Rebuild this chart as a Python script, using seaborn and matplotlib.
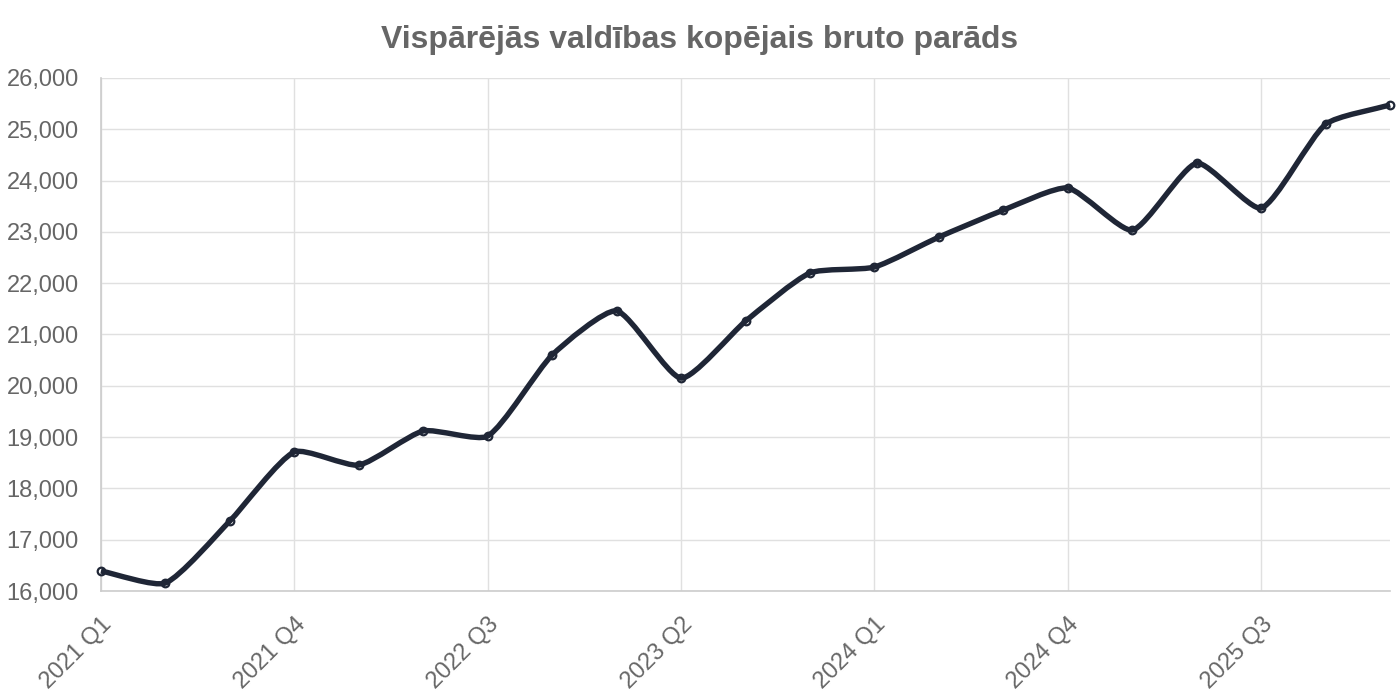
import matplotlib as mpl
mpl.use('Agg')
import matplotlib.pyplot as plt
import seaborn as sns
import numpy as np
import pandas as pd
from matplotlib.path import Path
from matplotlib.patches import PathPatch

quarters = ['2021 Q1', '2021 Q2', '2021 Q3', '2021 Q4',
            '2022 Q1', '2022 Q2', '2022 Q3', '2022 Q4',
            '2023 Q1', '2023 Q2', '2023 Q3', '2023 Q4',
            '2024 Q1', '2024 Q2', '2024 Q3', '2024 Q4',
            '2025 Q1', '2025 Q2', '2025 Q3', '2025 Q4',
            '2026 Q1']
debt = [16390, 16156, 17365, 18710, 18455, 19120, 19020, 20600,
        21460, 20150, 21260, 22200, 22315, 22900, 23425, 23855,
        23035, 24340, 23465, 25100, 25475]

LINE = '#1f2636'
GREY = '#666666'
GRID = '#e0e0e0'


def smooth_path(ax, xs, ys, tension=0.2):
    # chart.js style bezier, control points computed in pixel space
    pts = ax.transData.transform(np.column_stack([xs, ys]))
    n = len(pts)
    cps = []
    for i in range(n):
        prev = pts[max(i - 1, 0)]
        cur = pts[i]
        nxt = pts[min(i + 1, n - 1)]
        d01 = np.hypot(*(cur - prev))
        d12 = np.hypot(*(nxt - cur))
        tot = d01 + d12 if d01 + d12 else 1
        fa = tension * d01 / tot
        fb = tension * d12 / tot
        cps.append((cur - fa * (nxt - prev), cur + fb * (nxt - prev)))
    verts = [pts[0]]
    codes = [Path.MOVETO]
    for i in range(1, n):
        verts += [cps[i - 1][1], cps[i][0], pts[i]]
        codes += [Path.CURVE4] * 3
    verts = ax.transData.inverted().transform(np.array(verts))
    return Path(verts, codes)


sns.set_theme(style='whitegrid')
plt.rcParams['font.family'] = ['Liberation Sans', 'DejaVu Sans']

df = pd.DataFrame({'pos': np.arange(len(quarters)), 'debt': debt})

fig = plt.figure(figsize=(14, 7), dpi=100)
ax = fig.add_axes([0.0721, 0.1557, 0.9209, 0.7329])
ax.set_xlim(0, len(quarters) - 1)
ax.set_ylim(16000, 26000)

sns.scatterplot(data=df, x='pos', y='debt', ax=ax, s=30, color='white',
                edgecolor=LINE, linewidth=1.6, zorder=3, clip_on=False)
ax.add_patch(PathPatch(smooth_path(ax, df['pos'].values, df['debt'].values),
                       fill=False, edgecolor=LINE, lw=3.9, zorder=4,
                       capstyle='butt', joinstyle='round', clip_on=False))

tick_pos = list(range(0, len(quarters), 3))
ax.set_xticks(tick_pos)
ax.set_xticklabels([quarters[i] for i in tick_pos], rotation=45,
                   ha='right', rotation_mode='anchor', fontsize=17, color=GREY)
ax.set_yticks(range(16000, 26001, 1000))
ax.set_yticklabels(['{:,}'.format(v) for v in range(16000, 26001, 1000)],
                   fontsize=17, color=GREY)
ax.tick_params(axis='both', length=10, width=1, color=GRID, pad=6, direction='out')
ax.grid(True, color=GRID, lw=1)
for side in ['top', 'right']:
    ax.spines[side].set_visible(False)
for side in ['left', 'bottom']:
    ax.spines[side].set_color('#cccccc')
    ax.spines[side].set_linewidth(1.2)
ax.set_xlabel('')
ax.set_ylabel('')
fig.suptitle('Vispārējās valdības kopējais bruto parāds', fontsize=23,
             fontweight='bold', color=GREY, y=0.943, va='center')
fig.savefig('out.png', dpi=100)
